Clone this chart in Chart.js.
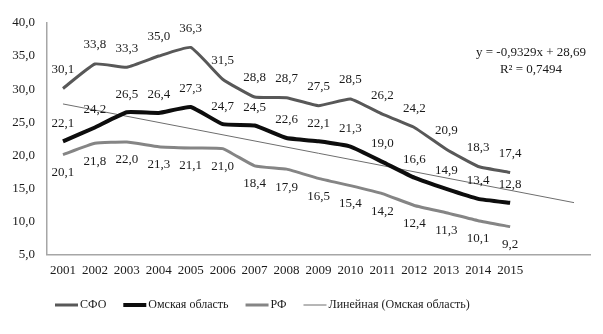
<!DOCTYPE html>
<html>
<head>
<meta charset="utf-8">
<script src="https://cdn.jsdelivr.net/npm/chart.js@4.4.1/dist/chart.umd.min.js"></script>
<style>
  html, body { margin: 0; padding: 0; background: #fff; }
  #wrap { width: 603px; height: 334px; position: relative; }
</style>
</head>
<body>
<div id="wrap"><canvas id="c"></canvas></div>
<script>
const years = [2001, 2002, 2003, 2004, 2005, 2006, 2007, 2008, 2009, 2010, 2011, 2012, 2013, 2014, 2015];
const sfo = [30.1, 33.8, 33.3, 35.0, 36.3, 31.5, 28.8, 28.7, 27.5, 28.5, 26.2, 24.2, 20.9, 18.3, 17.4];
const omsk = [22.1, 24.2, 26.5, 26.4, 27.3, 24.7, 24.5, 22.6, 22.1, 21.3, 19.0, 16.6, 14.9, 13.4, 12.8];
const rf = [20.1, 21.8, 22.0, 21.3, 21.1, 21.0, 18.4, 17.9, 16.5, 15.4, 14.2, 12.4, 11.3, 10.1, 9.2];

// Linear trend for Омская область, forecast two periods ahead
const trendSlope = -0.9329;
const trendIntercept = 28.69;
const trendRange = [1, 17];
const trendText = ['y = -0,9329x + 28,69', 'R² = 0,7494'];

const fmt = v => v.toFixed(1).replace('.', ',');
const serif = '"Liberation Serif", "Times New Roman", serif';

const toPoints = arr => arr.map((v, i) => ({ x: i + 1, y: v }));
const trendPoints = trendRange.map(x => ({ x: x, y: trendIntercept + trendSlope * x }));

// Value labels above/below each point, trend equation and a compact legend row
const annotations = {
  id: 'annotations',
  afterDatasetsDraw(chart) {
    const ctx = chart.ctx;
    ctx.save();
    ctx.font = '13px ' + serif;
    ctx.fillStyle = '#1a1a1a';
    ctx.textAlign = 'center';
    ctx.textBaseline = 'middle';
    chart.data.datasets.forEach((ds, di) => {
      if (ds.labelOffset === undefined) return;
      const meta = chart.getDatasetMeta(di);
      meta.data.forEach((pt, i) => {
        ctx.fillText(fmt(ds.data[i].y), pt.x, pt.y + ds.labelOffset);
      });
    });
    ctx.fillText(trendText[0], 531, 53);
    ctx.fillText(trendText[1], 531, 70);

    // legend
    ctx.font = '12px ' + serif;
    ctx.textAlign = 'left';
    let x = 55;
    const y = 305;
    chart.data.datasets.forEach(ds => {
      ctx.strokeStyle = ds.borderColor;
      ctx.lineWidth = ds.borderWidth;
      ctx.beginPath();
      ctx.moveTo(x, y);
      ctx.lineTo(x + 23, y);
      ctx.stroke();
      ctx.fillText(ds.label, x + 25, y);
      x += 25 + ctx.measureText(ds.label).width + 17;
    });
    ctx.restore();
  }
};

new Chart(document.getElementById('c'), {
  type: 'line',
  data: {
    datasets: [
      {
        label: 'СФО',
        data: toPoints(sfo),
        borderColor: '#585858',
        borderWidth: 3,
        pointRadius: 0,
        tension: 0.12,
        labelOffset: -19
      },
      {
        label: 'Омская область',
        data: toPoints(omsk),
        borderColor: '#0d0d0d',
        borderWidth: 4,
        pointRadius: 0,
        tension: 0.12,
        labelOffset: -18
      },
      {
        label: 'РФ',
        data: toPoints(rf),
        borderColor: '#858585',
        borderWidth: 3,
        pointRadius: 0,
        tension: 0.12,
        labelOffset: 18
      },
      {
        label: 'Линейная (Омская область)',
        data: trendPoints,
        borderColor: '#6e6e6e',
        borderWidth: 1,
        pointRadius: 0
      }
    ]
  },
  options: {
    responsive: true,
    maintainAspectRatio: false,
    animation: false,
    layout: { padding: { top: 23, right: 13, bottom: 48, left: 0 } },
    plugins: {
      tooltip: { enabled: false },
      legend: { display: false }
    },
    scales: {
      x: {
        type: 'linear',
        min: 0.5,
        max: 17.5,
        grid: { display: false, drawTicks: false },
        border: { display: true, color: '#a6a6a6', width: 1.5 },
        afterBuildTicks(axis) {
          axis.ticks = years.map((y, i) => ({ value: i + 1 }));
        },
        ticks: {
          autoSkip: false,
          maxRotation: 0,
          padding: 8,
          color: '#1a1a1a',
          font: { family: serif, size: 13 },
          callback: v => years[v - 1] !== undefined ? String(years[v - 1]) : ''
        }
      },
      y: {
        min: 5,
        max: 40,
        grid: { display: false, drawTicks: false },
        border: { display: true, color: '#a6a6a6', width: 1.5 },
        afterFit(axis) { axis.width = 47; },
        ticks: {
          stepSize: 5,
          padding: 12,
          color: '#1a1a1a',
          font: { family: serif, size: 13 },
          callback: v => fmt(v)
        }
      }
    }
  },
  plugins: [annotations]
});
</script>
</body>
</html>
